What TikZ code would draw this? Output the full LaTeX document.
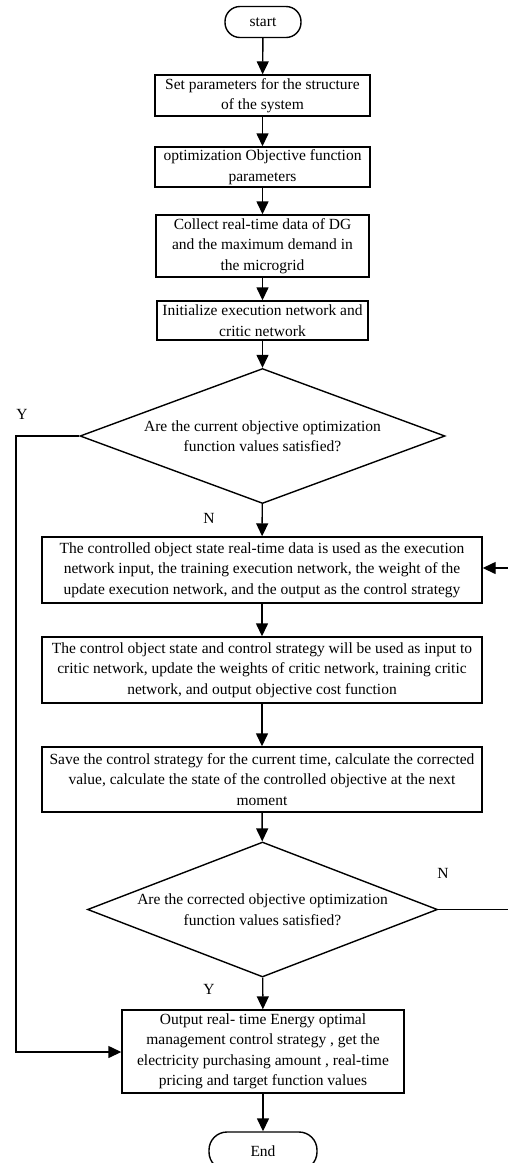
\documentclass[tikz,border=0pt]{standalone}
\usepackage{fontspec}
\setmainfont{Liberation Serif}
\usetikzlibrary{shapes.geometric,arrows.meta}
\begin{document}
\begin{tikzpicture}[x=1pt,y=-1pt,
  every node/.style={font=\fontsize{15.5}{20.5}\selectfont},
  proc/.style={draw, line width=1.4pt, align=center, inner sep=1pt},
  term/.style={draw, line width=1.4pt, inner sep=0pt},
  decision/.style={draw, diamond, line width=1.4pt, align=center, aspect=2.7, inner sep=0pt},
  flow/.style={line width=1.4pt, -{Triangle[length=13pt,width=12pt]}},
  lbl/.style={inner sep=0pt}]
\useasboundingbox (0,0) rectangle (507,1163);
\fill[white] (0,0) rectangle (507,1163);

% terminals and process steps
\node[term, rounded corners=15pt, minimum width=76pt, minimum height=31pt] (start) at (263,22) {start};
\node[proc, minimum width=215pt, minimum height=41pt] (b1) at (262.5,95.5)
  {Set parameters for the structure\\of the system};
\node[proc, minimum width=215pt, minimum height=40pt] (b2) at (262.5,167)
  {optimization Objective function\\parameters};
\node[proc, minimum width=213pt, minimum height=62pt] (b3) at (262.5,246)
  {Collect real-time data of DG\\and the maximum demand in\\the microgrid};
\node[proc, minimum width=211pt, minimum height=39pt] (b4) at (262.5,320.5)
  {Initialize execution network and\\critic network};
\node[decision, minimum width=365pt, minimum height=135pt] (d1) at (262.5,436)
  {Are the current objective optimization\\function values satisfied?};
\node[proc, minimum width=440pt, minimum height=66pt] (b5) at (262,570)
  {The controlled object state real-time data is used as the execution\\
   network input, the training execution network, the weight of the\\
   update execution network, and the output as the control strategy};
\node[proc, minimum width=440pt, minimum height=66pt] (b6) at (262,670)
  {The control object state and control strategy will be used as input to\\
   critic network, update the weights of critic network, training critic\\
   network, and output objective cost function};
\node[proc, minimum width=440pt, minimum height=65pt] (b7) at (262,779.5)
  {Save the control strategy for the current time, calculate the corrected\\
   value, calculate the state of the controlled objective at the next\\
   moment};
\node[decision, minimum width=350pt, minimum height=135pt] (d2) at (262.5,909.5)
  {Are the corrected objective optimization\\function values satisfied?};
\node[proc, minimum width=282pt, minimum height=83pt] (b8) at (263,1051.5)
  {Output real- time Energy optimal\\
   management control strategy , get the\\
   electricity purchasing amount , real-time\\
   pricing and target function values};
\node[term, rounded corners=18pt, minimum width=108pt, minimum height=38pt] (end) at (263,1151) {End};

% branch labels
\node[lbl] (ly1) at (22,414) {Y};
\node[lbl] (ln1) at (209,518) {N};
\node[lbl] (ln2) at (443,873) {N};
\node[lbl] (ly2) at (209,989) {Y};

% bend points of the two return paths
\coordinate (yl1) at (16,436);
\coordinate (yl2) at (16,1052);
\coordinate (nr1) at (514,909.5);
\coordinate (nr2) at (514,568);

% main flow
\draw[flow] (start) -- (b1);
\draw[flow] (b1) -- (b2);
\draw[flow] (b2) -- (b3);
\draw[flow] (b3) -- (b4);
\draw[flow] (b4) -- (d1);
\draw[flow] (d1) -- (b5);
\draw[flow] (b5) -- (b6);
\draw[flow] (b6) -- (b7);
\draw[flow] (b7) -- (d2);
\draw[flow] (d2) -- (b8);
\draw[flow] (b8) -- (end);

% return paths
\draw[flow] (d1.west) -- (yl1) -- (yl2) -- (yl2 -| b8.west);
\draw[flow] (d2.east) -- (nr1) -- (nr2) -- (nr2 -| b5.east);
\end{tikzpicture}
\end{document}
